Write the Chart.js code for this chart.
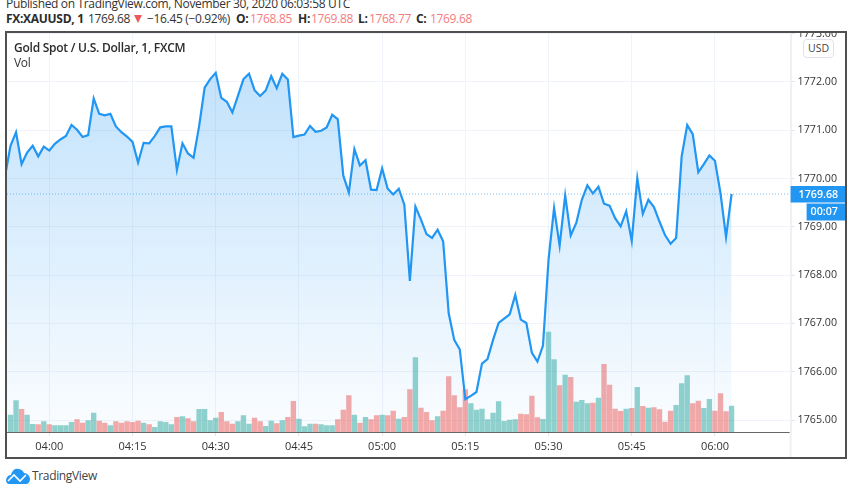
<!DOCTYPE html>
<html>
<head>
<meta charset="utf-8">
<title>XAUUSD</title>
<script src="https://cdn.jsdelivr.net/npm/chart.js@4"></script>
<style>
    html, body { margin: 0; padding: 0; background: #fff; width: 852px; height: 485px; overflow: hidden; }
    body { font-family: 'Open Sans', sans-serif; color: #333; position: relative; }
    .txt { position: absolute; white-space: nowrap; font-size: 12px; line-height: 16px; letter-spacing: -0.34px; }
    .b { font-weight: 700; color: #2b2b2b; letter-spacing: -0.3px; }
    .title { font-weight: 600; color: #2b2b2b; letter-spacing: -0.25px; }
    .red { color: #f77c80; }
    .frame { position: absolute; left: 5px; top: 31px; width: 838px; height: 424px; border: 2px solid #505050; overflow: hidden; }
    canvas { display: block; }
    .usd { position: absolute; left: 796px; top: 6px; width: 29px; height: 17px; border: 1px solid #e0e3eb; border-radius: 4px; background: #fff; font-size: 10.5px; line-height: 17px; text-align: center; color: #444; }
    .tri { position: absolute; left: 134px; top: 15px; width: 0; height: 0; border-left: 4.5px solid transparent; border-right: 4.5px solid transparent; border-top: 8px solid #f0595b; }
</style>
</head>
<body>
<div class="txt" style="left:6px;top:-4px;">Published on TradingView.com, November 30, 2020 06:03:58 UTC</div>
<div class="txt b" style="left:6px;top:11px;">FX:XAUUSD, 1</div>
<div class="txt" style="left:88px;top:11px;">1769.68</div>
<div class="tri"></div>
<div class="txt" style="left:147px;top:11px;">−16.45 (−0.92%)</div>
<div class="txt b" style="left:236px;top:11px;">O:</div>
<div class="txt red" style="left:250px;top:11px;">1768.85</div>
<div class="txt b" style="left:298px;top:11px;">H:</div>
<div class="txt red" style="left:311px;top:11px;">1769.88</div>
<div class="txt b" style="left:358px;top:11px;">L:</div>
<div class="txt red" style="left:369px;top:11px;">1768.77</div>
<div class="txt b" style="left:416px;top:11px;">C:</div>
<div class="txt red" style="left:430px;top:11px;">1769.68</div>

<div class="frame">
    <canvas id="goldChart" width="838" height="424"></canvas>
    <div class="txt title" style="left:7px;top:7px;">Gold Spot / U.S. Dollar, 1, FXCM</div>
    <div class="txt" style="left:7px;top:22px;">Vol</div>
    <div class="usd">USD</div>
</div>

<svg style="position:absolute;left:6px;top:468px;" width="24" height="16" viewBox="0 0 24 16">
    <path d="M0 12 C1 8 3 7 5 7 C6 3 9 0 12 1 C15 1 17 3 18 5 C21 5 24 8 24 11 C24 14 22 16 20 16 L3 16 C1 16 0 14 0 12 Z" fill="#2196f3"/>
    <path d="M2 13 L8 7 L14 13 L20 7" fill="none" stroke="#fff" stroke-width="1.6"/>
</svg>
<div class="txt" style="left:32px;top:468px;color:#444;">TradingView</div>

<script>
// --- chart data ---
const times = [
    "03:52", "03:53", "03:54", "03:55", "03:56", "03:57", "03:58", "03:59",
    "04:00", "04:01", "04:02", "04:03", "04:04", "04:05", "04:06", "04:07", "04:08", "04:09",
    "04:10", "04:11", "04:12", "04:13", "04:14", "04:15", "04:16", "04:17", "04:18", "04:19",
    "04:20", "04:21", "04:22", "04:23", "04:24", "04:25", "04:26", "04:27", "04:28", "04:29",
    "04:30", "04:31", "04:32", "04:33", "04:34", "04:35", "04:36", "04:37", "04:38", "04:39",
    "04:40", "04:41", "04:42", "04:43", "04:44", "04:45", "04:46", "04:47", "04:48", "04:49",
    "04:50", "04:51", "04:52", "04:53", "04:54", "04:55", "04:56", "04:57", "04:58", "04:59",
    "05:00", "05:01", "05:02", "05:03", "05:04", "05:05", "05:06", "05:07", "05:08", "05:09",
    "05:10", "05:11", "05:12", "05:13", "05:14", "05:15", "05:16", "05:17", "05:18", "05:19",
    "05:20", "05:21", "05:22", "05:23", "05:24", "05:25", "05:26", "05:27", "05:28", "05:29",
    "05:30", "05:31", "05:32", "05:33", "05:34", "05:35", "05:36", "05:37", "05:38", "05:39",
    "05:40", "05:41", "05:42", "05:43", "05:44", "05:45", "05:46", "05:47", "05:48", "05:49",
    "05:50", "05:51", "05:52", "05:53", "05:54", "05:55", "05:56", "05:57", "05:58", "05:59",
    "06:00", "06:01", "06:02", "06:03"
];
const closes = [
    1770.04, 1770.68, 1770.96, 1770.30, 1770.54, 1770.68, 1770.46, 1770.66,
    1770.58, 1770.72, 1770.81, 1770.88, 1771.11, 1771.01, 1770.86, 1770.90, 1771.66, 1771.34,
    1771.31, 1771.34, 1771.08, 1770.96, 1770.87, 1770.76, 1770.33, 1770.74, 1770.73, 1770.88,
    1771.06, 1771.08, 1771.08, 1770.18, 1770.73, 1770.52, 1770.43, 1771.08, 1771.88, 1772.06,
    1772.19, 1771.67, 1771.59, 1771.37, 1771.71, 1772.06, 1772.17, 1771.83, 1771.71, 1771.82,
    1772.12, 1771.87, 1772.17, 1772.05, 1770.86, 1770.89, 1770.91, 1771.09, 1770.97, 1770.99,
    1771.06, 1771.32, 1771.23, 1770.06, 1769.71, 1770.61, 1770.27, 1770.38, 1769.77, 1769.76,
    1770.21, 1769.79, 1769.67, 1769.79, 1769.46, 1767.88, 1769.42, 1769.15, 1768.85, 1768.77,
    1768.94, 1768.70, 1767.21, 1766.66, 1766.46, 1765.43, 1765.50, 1765.58, 1766.17, 1766.26,
    1766.66, 1767.01, 1767.10, 1767.19, 1767.59, 1767.08, 1767.01, 1766.39, 1766.21, 1766.54,
    1768.32, 1769.39, 1768.61, 1769.65, 1768.82, 1769.08, 1769.56, 1769.86, 1769.69, 1769.83,
    1769.48, 1769.44, 1769.18, 1769.01, 1769.32, 1768.71, 1770.01, 1769.27, 1769.56, 1769.41,
    1769.11, 1768.83, 1768.65, 1768.77, 1770.46, 1771.11, 1770.92, 1770.13, 1770.30, 1770.48,
    1770.37, 1769.70, 1768.79, 1769.68
];
const volumes = [
    null, 51, 94, 68, 51, 23, 22, 31,
    22, 19, 19, 19, 29, 37, 27, 34, 57, 33,
    27, 19, 31, 27, 31, 29, 33, 27, 22, 14,
    31, 29, 22, 44, 46, 40, 31, 68, 68, 34,
    42, 59, 31, 24, 31, 49, 24, 42, 31, 17,
    33, 25, 34, 44, 92, 39, 16, 24, 24, 22,
    19, 19, 37, 66, 109, 51, 27, 44, 37, 49,
    51, 49, 63, 39, 44, 127, 223, 72, 59, 34,
    46, 63, 166, 109, 73, 127, 85, 66, 69, 37,
    57, 91, 32, 36, 37, 54, 52, 108, 43, 38,
    300, 217, 139, 171, 164, 90, 95, 85, 87, 102,
    203, 141, 69, 62, 69, 71, 134, 77, 72, 73,
    67, 30, 63, 80, 145, 169, 85, 93, 71, 98,
    63, 115, 61, 78
];
// 1 = up bar (teal), 0 = down bar (red)
const volumeUp = [
    0, 1, 1, 0, 1, 1, 0, 1,
    0, 1, 1, 1, 1, 0, 0, 1, 1, 0,
    0, 1, 0, 0, 0, 0, 0, 1, 0, 1,
    1, 1, 1, 0, 1, 0, 0, 1, 1, 1,
    1, 0, 0, 0, 1, 1, 1, 0, 0, 1,
    1, 0, 1, 0, 0, 1, 1, 1, 0, 1,
    1, 1, 0, 0, 0, 1, 0, 1, 0, 0,
    1, 0, 0, 1, 0, 0, 1, 0, 0, 0,
    1, 0, 0, 0, 0, 0, 1, 1, 1, 1,
    1, 1, 1, 1, 1, 0, 0, 0, 0, 1,
    1, 1, 0, 1, 0, 1, 1, 1, 0, 1,
    0, 0, 0, 0, 1, 0, 1, 0, 1, 0,
    0, 0, 0, 1, 1, 1, 0, 0, 1, 1,
    0, 0, 0, 1
];
const timeTicks = ["04:00", "04:15", "04:30", "04:45", "05:00", "05:15", "05:30", "05:45", "06:00"];
const priceTicks = ["1765.00", "1766.00", "1767.00", "1768.00", "1769.00", "1770.00", "1771.00", "1772.00", "1773.00"];
const lastPrice = 1769.68;
const lastPriceLabel = "1769.68";
const countdownLabel = "00:07";

// minutes after 04:00, the x scale is linear so the empty space on the right is kept
const toMinutes = t => {
    const [h, m] = t.split(':').map(Number);
    return (h - 4) * 60 + m;
};
const toLabel = v => {
    const total = v + 240;
    return String(Math.floor(total / 60)).padStart(2, '0') + ':' + String(total % 60).padStart(2, '0');
};

const X_MIN = -7.63, X_MAX = 133.64;

// price axis leftovers and the two blue tags
const lastPricePlugin = {
    id: 'lastPriceTags',
    afterDraw(chart) {
        const { ctx, chartArea, width, height } = chart;
        const y = chart.scales.y.getPixelForValue(lastPrice);
        ctx.save();
        ctx.fillStyle = '#eef0f3';
        ctx.fillRect(chartArea.right - 1, chartArea.bottom, 2, height - chartArea.bottom);
        ctx.fillStyle = '#2196f3';
        ctx.fillRect(chartArea.right, y - 8, width - chartArea.right, 16.5);
        ctx.fillRect(chartArea.right + 16, y + 9.5, width - chartArea.right - 16, 17);
        ctx.fillStyle = '#fff';
        ctx.font = "600 10.7px 'Open Sans', sans-serif";
        ctx.textBaseline = 'middle';
        ctx.textAlign = 'left';
        ctx.fillText(lastPriceLabel, chartArea.right + 8, y + 0.5);
        ctx.fillText(countdownLabel, chartArea.right + 20, y + 18);
        ctx.restore();
    }
};

const ctx = document.getElementById('goldChart');
new Chart(ctx, {
    type: 'bar',
    data: {
        datasets: [{
            type: 'line',
            data: [{ x: X_MIN, y: lastPrice }, { x: X_MAX, y: lastPrice }],
            borderColor: 'rgba(33, 150, 243, 0.6)',
            borderWidth: 1,
            borderDash: [1, 2],
            pointRadius: 0,
            fill: false,
            order: 1
        }, {
            type: 'line',
            data: times.map((t, i) => ({ x: toMinutes(t), y: closes[i] })),
            borderColor: '#2196f3',
            borderWidth: 2.2,
            tension: 0,
            pointRadius: 0,
            fill: 'start',
            backgroundColor: context => {
                const { ctx, chartArea } = context.chart;
                if (!chartArea) return null;
                const gradient = ctx.createLinearGradient(0, chartArea.top + 35, 0, chartArea.bottom);
                gradient.addColorStop(0, 'rgba(33, 150, 243, 0.28)');
                gradient.addColorStop(1, 'rgba(33, 150, 243, 0.02)');
                return gradient;
            },
            order: 2
        }, {
            type: 'bar',
            yAxisID: 'vol',
            data: times.map((t, i) => ({ x: toMinutes(t), y: volumes[i] })),
            backgroundColor: volumeUp.map(u => u ? 'rgba(38, 166, 154, 0.5)' : 'rgba(239, 83, 80, 0.5)'),
            barThickness: 4.7,
            order: 3
        }]
    },
    options: {
        responsive: false,
        animation: false,
        layout: { padding: 0 },
        plugins: {
            legend: { display: false },
            tooltip: { enabled: false }
        },
        scales: {
            x: {
                type: 'linear',
                offset: false,
                min: X_MIN,
                max: X_MAX,
                afterBuildTicks: axis => {
                    axis.ticks = timeTicks.map(t => ({ value: toMinutes(t) }));
                },
                afterFit: axis => {
                    axis.height = 25;
                    axis.paddingLeft = 0;
                    axis.paddingRight = 0;
                },
                border: { color: '#666', width: 1 },
                grid: { offset: false, color: '#f0f3fa', tickColor: '#e0e3eb', tickLength: 4 },
                ticks: {
                    color: '#333',
                    font: { family: "'Open Sans', sans-serif", size: 11 },
                    padding: 4.5,
                    maxRotation: 0,
                    autoSkip: false,
                    callback: v => toLabel(v)
                }
            },
            y: {
                position: 'right',
                min: 1764.752,
                max: 1773.014,
                afterBuildTicks: axis => {
                    axis.ticks = priceTicks.map(t => ({ value: Number(t) }));
                },
                afterFit: axis => {
                    axis.width = 54.4;
                    axis.paddingTop = 0;
                    axis.paddingBottom = 0;
                },
                border: { color: '#eef0f3', width: 2 },
                grid: { color: '#f0f3fa', tickColor: '#e0e3eb', tickLength: 4 },
                ticks: {
                    color: '#333',
                    font: { family: "'Open Sans', sans-serif", size: 10.7 },
                    padding: 3,
                    autoSkip: false,
                    callback: v => v.toFixed(2)
                }
            },
            vol: {
                display: false,
                min: 0,
                max: 1197
            }
        }
    },
    plugins: [lastPricePlugin]
});
</script>
</body>
</html>
